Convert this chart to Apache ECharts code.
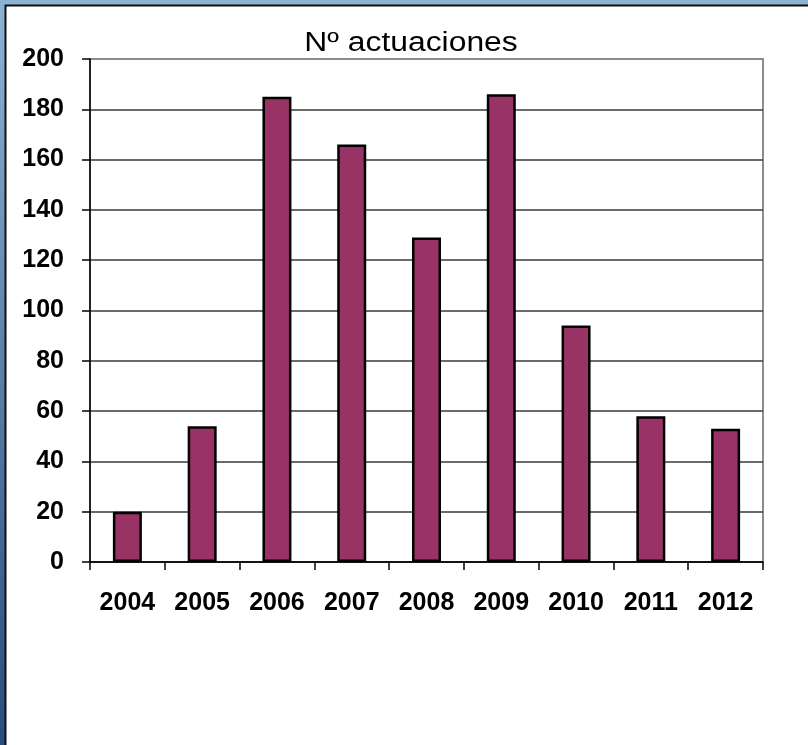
<!DOCTYPE html>
<html>
<head>
<meta charset="utf-8">
<script src="https://cdn.jsdelivr.net/npm/echarts@6/dist/echarts.min.js"></script>
<style>
html,body{margin:0;padding:0;background:#fff;}
#chart{width:808px;height:745px;}
</style>
</head>
<body>
<div id="chart"></div>
<script>
const categories = ['2004','2005','2006','2007','2008','2009','2010','2011','2012'];
const values = [20, 54, 185, 166, 129, 186, 94, 58, 53];
const yMin = 0, yMax = 200, yStep = 20;
const titleText = 'Nº actuaciones';

const chart = echarts.init(document.getElementById('chart'));
const gridColors = [];
for (let v = yMin; v <= yMax; v += yStep) gridColors.push(v === yMax ? '#8c8c8c' : '#3a3a3a');

chart.setOption({
  animation: false,
  graphic: [
    {type:'rect', z:-100, shape:{x:0,y:0,width:808,height:745},
     style:{fill:new echarts.graphic.LinearGradient(0,0,0,1,[{offset:0,color:'#8db3d3'},{offset:1,color:'#2b4a7e'}])}},
    {type:'rect', z:-99, shape:{x:5.5,y:5.5,width:820,height:760},
     style:{fill:'#ffffff', stroke:'#111111', lineWidth:2}},
    {type:'text', z:10, x:411, y:44, scaleX:1.18,
     style:{text:titleText, font:'27px "Liberation Sans", Arial, sans-serif', fill:'#000', align:'center', verticalAlign:'middle'}}
  ],
  grid: {left:90, right:45, top:59, bottom:183, show:true, borderColor:'#8c8c8c', borderWidth:2, backgroundColor:'transparent'},
  xAxis: {
    type:'category', data:categories, boundaryGap:true,
    axisLine:{lineStyle:{color:'#000', width:1.5}},
    axisTick:{show:true, length:8, inside:false, lineStyle:{color:'#000', width:1.5}},
    axisLabel:{color:'#000', fontSize:25, fontWeight:'bold', fontFamily:'"Liberation Sans", Arial, sans-serif', margin:29, interval:0},
    splitLine:{show:false}
  },
  yAxis: {
    type:'value', min:yMin, max:yMax, interval:yStep,
    axisLine:{show:true, lineStyle:{color:'#000', width:1.5}},
    axisTick:{show:true, length:8, lineStyle:{color:'#000', width:1.5}},
    axisLabel:{color:'#000', fontSize:25, fontWeight:'bold', fontFamily:'"Liberation Sans", Arial, sans-serif', margin:26},
    splitLine:{show:true, lineStyle:{color:gridColors, width:1.5}}
  },
  series: [{
    type:'bar', data:values, barWidth:29,
    itemStyle:{color:'#993366', borderColor:'#000', borderWidth:2.5}
  }]
});
</script>
</body>
</html>
